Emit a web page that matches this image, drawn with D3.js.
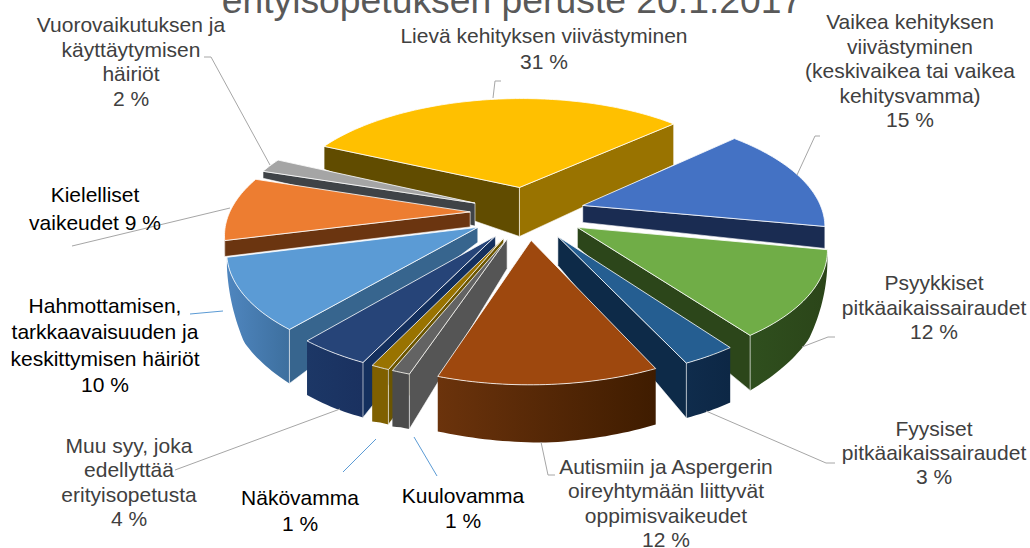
<!DOCTYPE html>
<html><head><meta charset="utf-8"><script src="https://cdn.jsdelivr.net/npm/d3@7"></script>
<style>html,body{margin:0;background:#fff}svg{display:block}text{font-family:"Liberation Sans",Arial,sans-serif}</style></head><body><svg id="c" width="1030" height="548"></svg>
<script>
// ---- data ----
const titleText="erityisopetuksen peruste 20.1.2017";
const categories=["Lievä kehityksen viivästyminen","Vaikea kehityksen viivästyminen (keskivaikea tai vaikea kehitysvamma)","Psyykkiset pitkäaikaissairaudet","Fyysiset pitkäaikaissairaudet","Autismiin ja Aspergerin oireyhtymään liittyvät oppimisvaikeudet","Kuulovamma","Näkövamma","Muu syy, joka edellyttää erityisopetusta","Hahmottamisen, tarkkaavaisuuden ja keskittymisen häiriöt","Kielelliset vaikeudet","Vuorovaikutuksen ja käyttäytymisen häiriöt"];
const values=[31,15,12,3,12,1,1,4,10,9,2];
// ---- styles ----
const topColors=["#FFC000","#4472C4","#70AD47","#255E91","#9E480E","#636363","#997300","#264478","#5B9BD5","#ED7D31","#A5A5A5"];
const wallStart=["#614c00","#1a2c52","#2c461a","#0d2a48","#5e2b08","#555555","#6b5500","#14305e","#37658e","#6b3510","#3f4347"];
const wallEnd=["#997300","#1a2c52","#2c461a","#0d2a48","#5e2b08","#555555","#6b5500","#14305e","#37658e","#6b3510","#3f4347"];
const rimRight=["#7a5c00","#1a2c52","#2b4519","#0d2745","#3f1c00","#4b4b4b","#7f6000","#1a3160","#3d6f9e","#6b3510","#3f4347"];
const rimLeft=["#7a5c00","#1a2c52","#2f4f1e","#0f2c4c","#6b330c","#4b4b4b","#7f6000","#1c3766","#4f86bf","#6b3510","#3f4347"];
// wall depth on screen per slice: [centre, first edge, middle of rim, last edge]
const wallDepth=[[49,23,32,41],[17,22,22,22],[20,8,44,55],[29,55,55,55],[30,56,58,55],[30,55,55,56],[30,55,55,56],[15,55,55,54],[15,54,47,10],[15,16,15,14],[23,7,7,7]];
// ---- layout ----
const rotationDeg=-69, explode=0.24;
const camera=[233.687,-104.738,527.793,5.74134,76.0872,212.762,-0.0114303,-0.162019];
const labels=[
 {x:544,y:43,dy:26,c:"#404040",t:["Lievä kehityksen viivästyminen","31 %"]},
 {x:910,y:29,dy:24.6,c:"#404040",t:["Vaikea kehityksen","viivästyminen","(keskivaikea tai vaikea","kehitysvamma)","15 %"]},
 {x:934,y:290,dy:24.5,c:"#404040",t:["Psyykkiset","pitkäaikaissairaudet","12 %"]},
 {x:934,y:436,dy:24,c:"#404040",t:["Fyysiset","pitkäaikaissairaudet","3 %"]},
 {x:666,y:474,dy:24.3,c:"#404040",t:["Autismiin ja Aspergerin","oireyhtymään liittyvät","oppimisvaikeudet","12 %"]},
 {x:463,y:503,dy:25,c:"#000",t:["Kuulovamma","1 %"]},
 {x:300,y:505,dy:26,c:"#000",t:["Näkövamma","1 %"]},
 {x:129,y:453,dy:24.3,c:"#404040",t:["Muu syy, joka","edellyttää","erityisopetusta","4 %"]},
 {x:105,y:313,dy:26.3,c:"#000",t:["Hahmottamisen,","tarkkaavaisuuden ja","keskittymisen häiriöt","10 %"]},
 {x:95,y:202,dy:28,c:"#000",t:["Kielelliset","vaikeudet 9 %"]},
 {x:131,y:32,dy:24.7,c:"#404040",t:["Vuorovaikutuksen ja","käyttäytymisen","häiriöt","2 %"]}];
const leaders=[
 {c:"#a6a6a6",p:[[493,98],[495,81],[501,81]]},
 {c:"#a6a6a6",p:[[797,175],[815,136],[820,136]]},
 {c:"#a6a6a6",p:[[802,347],[828,337],[835,337]]},
 {c:"#a6a6a6",p:[[706,411],[826,463],[835,463]]},
 {c:"#a6a6a6",p:[[541,442],[548,475],[555,475]]},
 {c:"#5b9bd5",p:[[414,437],[437,476]]},
 {c:"#5b9bd5",p:[[376,439],[343,472]]},
 {c:"#a6a6a6",p:[[340,409],[175,470]]},
 {c:"#5b9bd5",p:[[223,311],[190,314]]},
 {c:"#a6a6a6",p:[[230,208],[72,246]]},
 {c:"#a6a6a6",p:[[270,165],[211,57],[204,57]]}];

const svg=d3.select("#c");
const defs=svg.append("defs");
const project=(u,v)=>{const h=camera,w=h[6]*u+h[7]*v+1;return[(h[0]*u+h[1]*v+h[2])/w,(h[3]*u+h[4]*v+h[5])/w];};
const line=d3.line();
const r0=rotationDeg*Math.PI/180;
const arcs=d3.pie().sort(null).startAngle(r0).endAngle(r0+2*Math.PI)(values);

const slices=arcs.map((a,i)=>{
  const m=(a.startAngle+a.endAngle)/2;
  const ox=explode*Math.sin(m),oy=-explode*Math.cos(m);
  const pt=(ang,R)=>project(R*Math.sin(ang)+ox,-R*Math.cos(ang)+oy);
  const depth=d3.scaleLinear().domain([0,.5,1]).range(wallDepth[i].slice(1));
  const n=Math.max(4,Math.ceil((a.endAngle-a.startAngle)*48));
  const rim=d3.range(n+1).map(k=>{const t=k/n,q=pt(a.startAngle+t*(a.endAngle-a.startAngle),1);return{t,x:q[0],y:q[1],h:depth(t)};});
  return{i,a,apex:pt(0,0),rim,key:pt(m,.6)[1]};
}).sort((p,q)=>p.key-q.key);

const pie=svg.append("g");
slices.forEach(s=>{
  const g=pie.append("g"),d0=wallDepth[s.i][0],A=s.apex,first=s.rim[0],last=s.rim[s.rim.length-1];
  // rim wall: only the part of the edge that faces the viewer
  const vis=s.rim.filter((p,k)=>{const prev=s.rim[k-1],next=s.rim[k+1];return (next&&next.x<p.x)||(prev&&p.x<prev.x);});
  if(vis.length>1){
    const id="rim"+s.i;
    const gr=defs.append("linearGradient").attr("id",id).attr("gradientUnits","userSpaceOnUse")
      .attr("x1",vis[0].x).attr("y1",0).attr("x2",vis[vis.length-1].x).attr("y2",0);
    gr.append("stop").attr("offset",0).attr("stop-color",rimRight[s.i]);
    gr.append("stop").attr("offset",1).attr("stop-color",rimLeft[s.i]);
    const poly=[...vis.map(p=>[p.x,p.y]),...vis.slice().reverse().map(p=>[p.x,p.y+p.h])];
    g.append("path").attr("d",line(poly)+"Z").attr("fill",`url(#${id})`);
  }
  // radial walls
  const wall=(e,col)=>g.append("path").attr("d",line([A,[e.x,e.y],[e.x,e.y+e.h],[A[0],A[1]+d0]])+"Z").attr("fill",col)
    .attr("stroke","#fff").attr("stroke-opacity",.75).attr("stroke-width",.8);
  if(first.x-A[0]<0) wall(first,wallStart[s.i]);
  if(last.x-A[0]>0) wall(last,wallEnd[s.i]);
  // top face
  g.append("path").attr("d",line([A,...s.rim.map(p=>[p.x,p.y])])+"Z").attr("fill",topColors[s.i]).attr("stroke","#fff").attr("stroke-opacity",.8).attr("stroke-width",1).attr("stroke-linejoin","round");
});

svg.append("g").selectAll("path").data(leaders).join("path").attr("d",d=>line(d.p)).attr("fill","none").attr("stroke",d=>d.c).attr("stroke-width",1);

svg.append("text").attr("x",512).attr("y",13).attr("text-anchor","middle").attr("font-size",37.3).attr("fill","#595959").text(titleText);
const lab=svg.append("g").attr("font-size",21).attr("text-anchor","middle");
labels.forEach(l=>l.t.forEach((s,i)=>lab.append("text").attr("x",l.x).attr("y",l.y+i*l.dy).attr("fill",l.c).text(s)));
</script></body></html>
